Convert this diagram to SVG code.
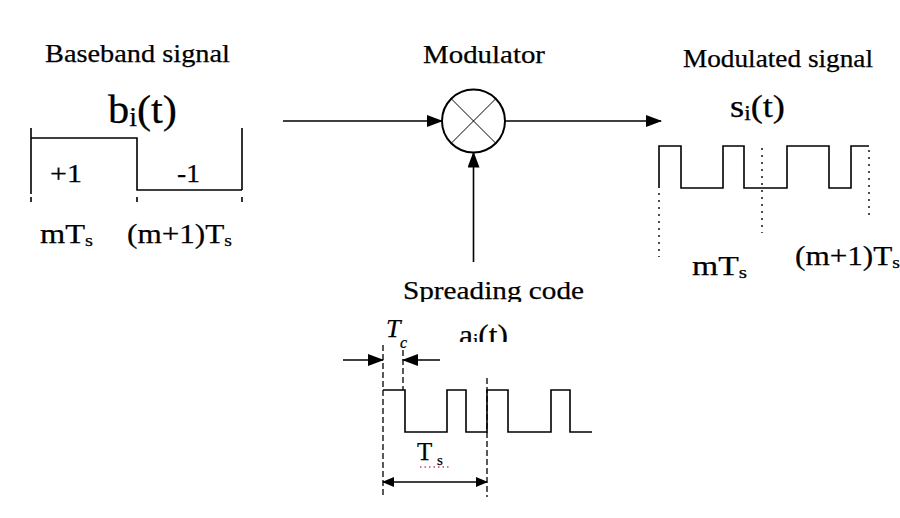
<svg xmlns="http://www.w3.org/2000/svg" width="900" height="518" viewBox="0 0 900 518">
<style>
text{font-family:"Liberation Serif","Times New Roman",serif;fill:#000;stroke:#000;stroke-width:0.25}
.ln{stroke:#000;stroke-width:1.6;fill:none}
.dash{stroke:#000;stroke-width:1.3;fill:none;stroke-dasharray:6 3}
.dot{stroke:#222;stroke-width:1.6;fill:none;stroke-dasharray:2 5}
.title{font-size:26px}
.lbl{font-size:27px}
.arr{stroke:#000;stroke-width:1.6;fill:none;marker-end:url(#ah)}
</style>
<defs>
<marker id="ah" markerWidth="16" markerHeight="12" refX="15" refY="6" orient="auto" markerUnits="userSpaceOnUse"><path d="M0,0 L16,6 L0,12 Z" fill="#000"/></marker>
<marker id="ahs" markerWidth="12" markerHeight="10" refX="11" refY="5" orient="auto-start-reverse" markerUnits="userSpaceOnUse"><path d="M0,0 L12,5 L0,10 Z" fill="#000"/></marker>
<clipPath id="c1"><rect x="380" y="270" width="220" height="32"/></clipPath>
<clipPath id="c2"><rect x="440" y="305" width="80" height="37"/></clipPath>
</defs>
<rect width="900" height="518" fill="#fff"/>

<g id="baseband">
<text class="title" x="45" y="62" textLength="185" lengthAdjust="spacingAndGlyphs">Baseband signal</text>
<text x="108" y="123" font-size="41" textLength="69" lengthAdjust="spacingAndGlyphs">b<tspan font-size="27" dy="3">i</tspan><tspan dy="-3">(t)</tspan></text>
<path class="ln" d="M31,128 V194 M31,138 H137 V190 H242 M242,128 V190"/>
<path class="ln" d="M31,197 V202 M137,197 V202 M242,197 V202"/>
<text x="50" y="182" font-size="25" textLength="32" lengthAdjust="spacingAndGlyphs">+1</text>
<text x="177" y="182" font-size="25" textLength="23" lengthAdjust="spacingAndGlyphs">-1</text>
<text class="lbl" x="40" y="243" textLength="53" lengthAdjust="spacingAndGlyphs">mT<tspan font-size="17" dy="3">s</tspan></text>
<text class="lbl" x="127" y="243" textLength="105" lengthAdjust="spacingAndGlyphs">(m+1)T<tspan font-size="17" dy="3">s</tspan></text>
</g>

<g id="modulator">
<text class="title" x="423" y="63" textLength="122" lengthAdjust="spacingAndGlyphs">Modulator</text>
<circle cx="473.5" cy="121" r="31.5" fill="none" stroke="#000" stroke-width="2"/>
<path stroke="#000" stroke-width="1" d="M451.2,98.7 L495.8,143.3 M495.8,98.7 L451.2,143.3"/>
</g>

<g id="spreading">
<text class="title" x="403" y="299" textLength="181" lengthAdjust="spacingAndGlyphs" clip-path="url(#c1)">Spreading code</text>
<text x="459" y="345" font-size="29" textLength="49" lengthAdjust="spacingAndGlyphs" clip-path="url(#c2)">a<tspan font-size="18" dy="2">i</tspan><tspan dy="-2">(t)</tspan></text>
<text x="386" y="337" font-size="26" font-style="italic">T</text>
<text x="400" y="348" font-size="16" font-style="italic">c</text>
<path class="dash" d="M383,345 V497 M403,350 V390 M487,378 V497"/>
<path class="ln" d="M383,390 H405 V432 H447 V390 H466 V432 H487 V390 H508 V432 H551 V390 H570 V432 H592"/>
<text x="417" y="460" font-size="25">T</text>
<text x="437" y="465" font-size="15">s</text>
<path d="M420,467 H451" stroke="#d0406a" stroke-width="1.5" stroke-dasharray="1.5 3" fill="none"/>
</g>

<g id="modulated">
<text class="title" x="683" y="67" font-size="25" textLength="190" lengthAdjust="spacingAndGlyphs">Modulated signal</text>
<text x="730" y="117" font-size="31" textLength="55" lengthAdjust="spacingAndGlyphs">s<tspan font-size="20" dy="3">i</tspan><tspan dy="-3">(t)</tspan></text>
<path class="ln" d="M659,188 V146 H681 V188 H723 V146 H744 V188 H787 V146 H829 V188 H851 V146 H869"/>
<path class="dot" d="M659,193 V257 M762,148 V233 M869,150 V218"/>
<text class="lbl" x="692" y="275" textLength="55" lengthAdjust="spacingAndGlyphs">mT<tspan font-size="17" dy="3">s</tspan></text>
<text class="lbl" x="795" y="265" textLength="105" lengthAdjust="spacingAndGlyphs">(m+1)T<tspan font-size="17" dy="3">s</tspan></text>
</g>

<g id="connectors">
<path class="arr" d="M283,121 H442"/>
<path class="arr" d="M505,121 H661"/>
<path class="arr" d="M473.5,262 V152.5"/>
<path class="arr" d="M343,360 H383"/>
<path class="arr" d="M440,360 H403"/>
<path stroke="#000" stroke-width="1.6" fill="none" marker-start="url(#ahs)" marker-end="url(#ahs)" d="M383,482 H487"/>
</g>
</svg>
